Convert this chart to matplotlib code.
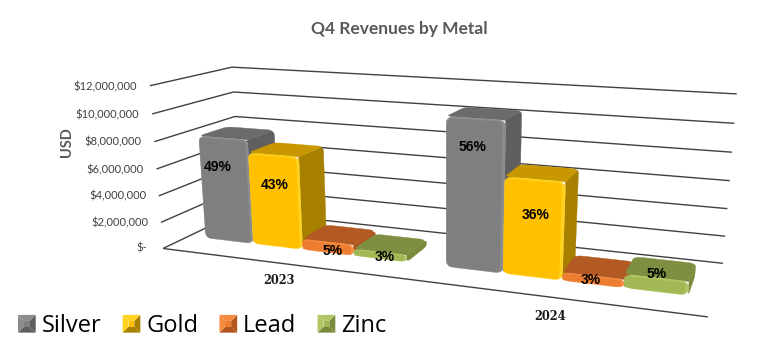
import matplotlib
matplotlib.use('Agg')
import matplotlib.pyplot as plt
import numpy as np
from matplotlib.legend_handler import HandlerBase
from matplotlib.patches import Patch, Polygon
from mpl_toolkits.mplot3d import proj3d
from mpl_toolkits.mplot3d.art3d import Line3DCollection, Poly3DCollection

years = ['2023', '2024']
metals = ['Silver', 'Gold', 'Lead', 'Zinc']
silver = [7900000, 10600000]
gold = [6950000, 6800000]
lead = [800000, 570000]
zinc = [500000, 940000]
shares = [['49%', '43%', '5%', '3%'], ['56%', '36%', '3%', '5%']]
ticks = [0, 2000000, 4000000, 6000000, 8000000, 10000000, 12000000]
tick_labels = ['$-', '$2,000,000', '$4,000,000', '$6,000,000', '$8,000,000', '$10,000,000', '$12,000,000']

# front, side, top, rim
shades = {'Silver': ('#7f7f7f', '#5f5f5f', '#6b6b6b', '#8c8c8c'),
          'Gold': ('#ffc000', '#a88000', '#c99700', '#ffd21f'),
          'Lead': ('#ed7d31', '#b2551f', '#b35a24', '#f58a40'),
          'Zinc': ('#a2b855', '#7a8c3c', '#7f8f42', '#b0c663')}

# label placement on the bar front: share of bar width, height in USD
label_u = [[0.37, 0.51, 0.60, 0.59], [0.46, 0.54, 0.47, 0.50]]
label_z = [[5600000, 4650000, 150000, 150000], [8600000, 4350000, 250000, 1200000]]

# camera fitted to the picture: x 0..2 groups, y 0..1 depth, z in 1e7 USD
world = []
pix = []
left = [(163, 248), (161, 222), (158, 196), (156, 169), (155, 142), (152.5, 114), (150, 86)]
right = [(723, 263), (725, 236), (727, 209), (730, 181), (732, 152), (734, 123), (737, 94)]
for i in range(7):
    world += [(0, 0, i * 0.2), (2, 1, i * 0.2)]
    pix += [left[i], right[i]]
world += [(0, 1, 1.2), (0, 1, 1.0), (0, 1, 0.8), (0, 1, 0), (2, 0, 0)]
pix += [(232, 67), (233, 92), (235, 116), (241, 212), (708, 317)]
A = []
for (X, Y, Z), (u, v) in zip(world, pix):
    A.append([X, Y, Z, 1, 0, 0, 0, 0, -u * X, -u * Y, -u * Z, -u])
    A.append([0, 0, 0, 0, X, Y, Z, 1, -v * X, -v * Y, -v * Z, -v])
P = np.linalg.svd(np.array(A, float))[2][-1].reshape(3, 4)
P = P / P[2, 3]
P[:, 2] = P[:, 2] / 1e7
M = np.array([P[0], P[1], [0, 1, 0, 0], P[2]])


def rounded_face(a, b, d, ru, rv, flags=(1, 1, 1, 1)):
    a, b, d = np.array(a, float), np.array(b, float), np.array(d, float)
    t = np.linspace(0, np.pi / 2, 6)
    pts = []
    corners = [(0, 0, 1, 1, np.pi), (1, 0, -1, 1, 1.5 * np.pi), (1, 1, -1, -1, 0), (0, 1, 1, -1, 0.5 * np.pi)]
    for (cu, cv, su, sv, start), f in zip(corners, flags):
        if f:
            for s in t:
                pts.append((cu + su * ru + ru * np.cos(start + s), cv + sv * rv + rv * np.sin(start + s)))
        else:
            pts.append((cu, cv))
    return [a + (b - a) * u + (d - a) * v for u, v in pts]


def add_poly(ax, poly, color, order):
    c = Poly3DCollection([poly], facecolor=color, edgecolor=color, linewidth=0.3, zorder=order)
    ax.add_collection3d(c, autolim=False)


def draw_bar(ax, x0, x1, y0, y1, z, cols, order):
    front, side, top, rim = cols
    rx, ry = 0.028, 0.05
    rz = min(380000, z * 0.42)
    add_poly(ax, rounded_face((x1, y0, 0), (x1, y1, 0), (x1, y0, z), ry / (y1 - y0), rz / z, (1, 1, 1, 0)), side, order)
    add_poly(ax, rounded_face((x0, y0, z), (x1, y0, z), (x0, y1, z), rx / (x1 - x0), ry / (y1 - y0), (1, 0, 1, 1)), top, order + 1)
    add_poly(ax, rounded_face((x0, y0, 0), (x1, y0, 0), (x0, y0, z), rx / (x1 - x0), rz / z), rim, order + 2)
    ix, iz = 0.012, min(130000, z * 0.15)
    add_poly(ax, rounded_face((x0 + 0.002, y0, iz * 0.4), (x1 - ix, y0, iz * 0.4), (x0 + 0.002, y0, z - iz), 0.06, 0.06), front, order + 3)


def label_at(ax, x, y, z, s, **kw):
    px, py, _ = proj3d.proj_transform(x, y, z, M)
    ax.text2D(px, py, s, transform=ax.transData, ha=kw.pop('ha', 'center'), va='center', **kw)


class BevelHandler(HandlerBase):
    def create_artists(self, legend, orig_handle, xd, yd, width, height, fontsize, trans):
        s = max(width, height)
        x0, y0 = -xd + (width - s) / 2, -yd + (height - s) / 2
        m = 0.34 * s
        o = [(x0, y0), (x0 + s, y0), (x0 + s, y0 + s), (x0, y0 + s)]
        i = [(x0 + m, y0 + m), (x0 + s - m, y0 + m), (x0 + s - m, y0 + s - m), (x0 + m, y0 + s - m)]
        front, side, top, rim = orig_handle.shade
        cols = [side, side, rim, rim]
        arts = []
        for k in range(4):
            j = (k + 1) % 4
            arts.append(Polygon([o[k], o[j], i[j], i[k]], facecolor=cols[k], edgecolor='none', transform=trans))
        arts.append(Polygon(i, facecolor=front, edgecolor='none', transform=trans))
        return arts


fig = plt.figure(figsize=(7.72, 3.57), dpi=100)
ax = fig.add_axes([0, 0, 1, 1], projection='3d')
ax.set_axis_off()
ax.set_xticks([])
ax.set_yticks([])
ax.set_zticks([])
ax.patch.set_visible(False)
ax.computed_zorder = False
ax.get_proj = lambda: M
ax.apply_aspect = lambda position=None: None

# walls and floor
line_col = '#404040'
segs = [[(0, 0, t), (0, 1, t), (2, 1, t)] for t in ticks]
segs.append([(0, 0, 0), (2, 0, 0)])
ax.add_collection3d(Line3DCollection(segs, colors=line_col, linewidths=1.0, zorder=1.5), autolim=False)

for i, t in enumerate(ticks):
    pad = -0.07 if i == 0 else -0.056
    label_at(ax, pad, 0, t - 120000, tick_labels[i], ha='right', fontsize=8.0,
             family='Lato', color='#404040', zorder=90)

series = [silver, gold, lead, zinc]
bar_w = 0.212
start = 0.07
y0, y1 = 0.32, 0.68
order = 2
for g in range(2):
    for m in range(4):
        x0 = g + start + m * bar_w
        draw_bar(ax, x0, x0 + bar_w, y0, y1, series[m][g], shades[metals[m]], order)
        order += 4
        label_at(ax, x0 + label_u[g][m] * bar_w, y0, label_z[g][m], shares[g][m],
                 fontsize=10, fontweight='bold', family='Liberation Sans', color='black', zorder=80)
    label_at(ax, g + 0.5 + (0.0 if g else -0.008), 0, -1300000, years[g], fontsize=8.3,
             fontweight='bold', family='DejaVu Serif', color='#1a1a1a', zorder=90)

ax.viewLim.intervalx = (0, 772)
ax.viewLim.intervaly = (357, 0)

fig.text(399 / 772, 1 - 29 / 357, 'Q4 Revenues by Metal', ha='center', va='center', fontsize=12.5,
         fontweight='bold', family='Lato', color='#595959')
fig.text(67 / 772, 1 - 142 / 357, 'USD', ha='center', va='center', rotation=90, fontsize=10.5,
         fontweight='bold', family='Lato', color='#595959')

handles = []
for name in metals:
    h = Patch(label=name)
    h.shade = shades[name]
    handles.append(h)
fig.legend(handles=handles, loc='center left', bbox_to_anchor=(18 / 772, 1 - 326 / 357), ncol=4, frameon=False,
           borderpad=0, borderaxespad=0, handlelength=0.75, handleheight=0.75, handletextpad=0.25,
           columnspacing=0.9, prop={'family': 'Open Sans', 'size': 17},
           handler_map={Patch: BevelHandler()})

fig.savefig('out.png', dpi=100)
